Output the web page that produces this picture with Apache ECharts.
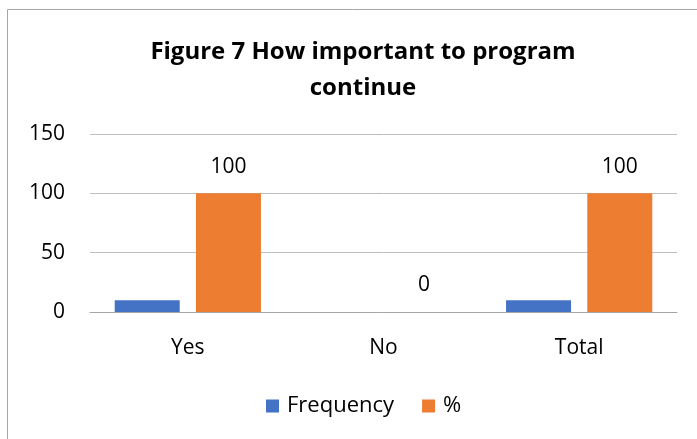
<!DOCTYPE html>
<html>
<head>
<meta charset="utf-8">
<script src="https://cdn.jsdelivr.net/npm/echarts@6/dist/echarts.min.js"></script>
<style>
  html, body { margin: 0; padding: 0; background: #ffffff; }
  #chart { width: 697px; height: 439px; }
</style>
</head>
<body>
<div id="chart"></div>
<script>
// Chart data
const categories = ['Yes', 'No', 'Total'];
const frequency = [10, 0, 10];
const percent = [100, 0, 100];
const yTicks = { min: 0, max: 150, interval: 50 };

const FONT = '"Open Sans", "Noto Sans", sans-serif';

const chart = echarts.init(document.getElementById('chart'), null, { renderer: 'canvas' });

chart.setOption({
  backgroundColor: '#ffffff',
  animation: false,
  title: {
    text: 'Figure 7 How important to program\ncontinue',
    left: 358,
    textAlign: 'center',
    top: 29,
    textStyle: {
      fontFamily: FONT,
      fontWeight: 'bold',
      fontSize: 24,
      lineHeight: 36,
      color: '#000000'
    }
  },
  graphic: [{
    type: 'rect',
    shape: { x: 7.5, y: 9.5, width: 720, height: 460 },
    style: { fill: 'none', stroke: '#a6a6a6', lineWidth: 1 },
    silent: true
  }],
  legend: {
    data: ['Frequency', '%'],
    bottom: 17,
    left: 261,
    itemWidth: 13,
    itemHeight: 13,
    itemGap: 28,
    icon: 'rect',
    textStyle: { fontFamily: FONT, fontSize: 22, color: '#000000', padding: [0, 0, 0, 3] }
  },
  grid: { left: 90, right: 20, top: 134, bottom: 127, containLabel: false },
  xAxis: {
    type: 'category',
    data: categories,
    axisTick: { show: false },
    axisLine: { show: true, lineStyle: { color: '#a6a6a6', width: 1 } },
    axisLabel: { fontFamily: FONT, fontSize: 21, color: '#000000', margin: 26 }
  },
  yAxis: {
    type: 'value',
    min: yTicks.min,
    max: yTicks.max,
    interval: yTicks.interval,
    axisLine: { show: false },
    axisTick: { show: false },
    axisLabel: { fontFamily: FONT, fontSize: 21, color: '#000000', margin: 25 },
    splitLine: { lineStyle: { color: '#bfbfbf', width: 1 } }
  },
  series: [
    {
      name: 'Frequency',
      type: 'bar',
      data: frequency,
      barWidth: 65,
      barGap: '25%',
      itemStyle: { color: '#4472C4' }
    },
    {
      name: '%',
      type: 'bar',
      data: percent,
      barWidth: 65,
      barGap: '25%',
      itemStyle: { color: '#ED7D31' },
      label: {
        show: true,
        position: 'top',
        distance: 16,
        fontFamily: FONT,
        fontSize: 21,
        color: '#000000'
      }
    }
  ]
});
</script>
</body>
</html>
